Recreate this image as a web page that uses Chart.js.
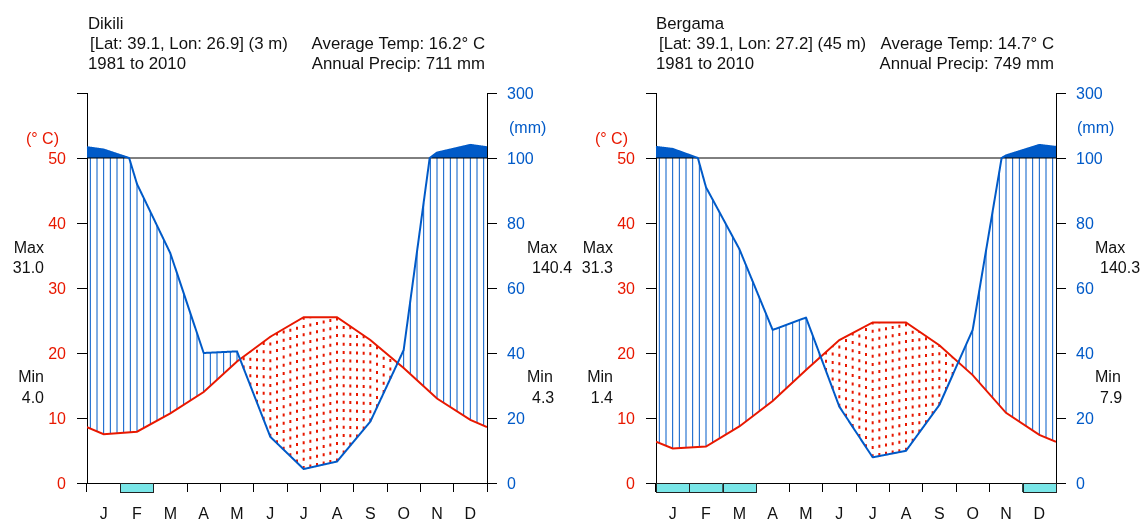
<!DOCTYPE html>
<html>
<head>
<meta charset="utf-8">
<script src="https://cdn.jsdelivr.net/npm/chart.js@4.4.0/dist/chart.umd.min.js"></script>
<style>
  body { margin: 0; background: #fff; width: 1147px; height: 522px; position: relative; overflow: hidden; }
  canvas { position: absolute; top: 0; }
</style>
</head>
<body>
<canvas id="dikili" width="576" height="522" style="left:0px"></canvas>
<canvas id="bergama" width="571" height="522" style="left:576px"></canvas>
<script>
const months = ['J', 'F', 'M', 'A', 'M', 'J', 'J', 'A', 'S', 'O', 'N', 'D'];
const tempTicks = [0, 10, 20, 30, 40, 50, 60];
const precipTicks = [0, 20, 40, 60, 80, 100, 300];
const period = '1981 to 2010';

// Dikili
const dikiliTemp = [7.5, 7.9, 10.7, 14.0, 18.7, 22.5, 25.5, 25.5, 22.0, 17.7, 13.0, 9.7];
const dikiliPrecip = [126, 92, 70.7, 40, 40.5, 14.2, 4.3, 6.6, 18.9, 40.9, 116.6, 140.4];
const dikiliFrost = [0, 1, 0, 0, 0, 0, 0, 0, 0, 0, 0, 0];
const dikiliInfo = ['Dikili', '[Lat: 39.1, Lon: 26.9] (3 m)', 'Average Temp: 16.2\u00b0 C', 'Annual Precip: 711 mm'];
const dikiliExtremes = ['31.0', '4.0', '140.4', '4.3'];

// Bergama
const bergamaTemp = [5.3, 5.6, 8.7, 12.6, 17.4, 22.0, 24.7, 24.7, 21.2, 16.6, 10.8, 7.4];
const bergamaPrecip = [128, 91, 72, 47.1, 50.9, 23.5, 7.9, 9.9, 24.0, 47.1, 108, 140.3];
const bergamaFrost = [1, 1, 1, 0, 0, 0, 0, 0, 0, 0, 0, 1];
const bergamaInfo = ['Bergama', '[Lat: 39.1, Lon: 27.2] (45 m)', 'Average Temp: 14.7\u00b0 C', 'Annual Precip: 749 mm'];
const bergamaExtremes = ['31.3', '1.4', '140.3', '7.9'];

const TCOL = '#e81800';
const PCOL = '#005ac8';
const FROST = '#79e6e8';
const FONT = '"Liberation Sans", Arial, sans-serif';

Chart.defaults.font.family = FONT;
Chart.defaults.font.size = 16;

// precipitation axis: 2 mm per degree up to 100 mm, 20 mm per degree above
class ClimateScale extends Chart.LinearScale {
  static id = 'climate';
  getPixelForValue(v) {
    const d = v <= 100 ? v / 2 : 50 + (v - 100) / 20;
    return this.getPixelForDecimal(d / 60);
  }
  getValueForPixel(p) {
    const d = this.getDecimalForPixel(p) * 60;
    return d <= 50 ? d * 2 : 100 + (d - 50) * 20;
  }
  buildTicks() {
    return precipTicks.map(v => ({ value: v }));
  }
}
Chart.register(ClimateScale);

// month centres plus the Dec/Jan mean at both ends
function withEdges(vals) {
  const e = (vals[0] + vals[11]) / 2;
  return [{ x: 0, y: e }, ...vals.map((v, i) => ({ x: i + 0.5, y: v })), { x: 12, y: e }];
}
function at(vals, m) {
  const pts = withEdges(vals);
  for (let i = 0; i < pts.length - 1; i++) {
    if (m <= pts[i + 1].x) {
      const t = (m - pts[i].x) / (pts[i + 1].x - pts[i].x);
      return pts[i].y + t * (pts[i + 1].y - pts[i].y);
    }
  }
  return pts[pts.length - 1].y;
}

const walterLieth = {
  id: 'walterLieth',
  beforeDatasetsDraw(chart, args, o) {
    const { ctx, chartArea: a } = chart;
    const { x, yT, yP } = chart.scales;
    ctx.save();
    ctx.beginPath();
    ctx.rect(a.left, a.top, a.right - a.left, a.bottom - a.top);
    ctx.clip();
    // humid hatching / arid dots, five per month
    for (let k = 0; k < 60; k++) {
      const m = (k + 0.5) / 5;
      const px = x.getPixelForValue(m);
      const ty = yT.getPixelForValue(at(o.temp, m));
      const py = yP.getPixelForValue(Math.min(at(o.precip, m), 100));
      ctx.beginPath();
      if (py < ty) {
        ctx.strokeStyle = PCOL;
        ctx.lineWidth = 1;
        ctx.setLineDash([]);
        ctx.moveTo(px, ty);
        ctx.lineTo(px, py);
      } else {
        ctx.strokeStyle = TCOL;
        ctx.lineWidth = 2;
        ctx.setLineDash([3, 5.3]);
        ctx.moveTo(px, py);
        ctx.lineTo(px, ty);
      }
      ctx.stroke();
    }
    ctx.setLineDash([]);
    // solid cap above 100 mm
    const base = yP.getPixelForValue(100);
    ctx.fillStyle = PCOL;
    ctx.beginPath();
    ctx.moveTo(x.getPixelForValue(0), base);
    for (let i = 0; i <= 1200; i++) {
      const m = i / 100;
      ctx.lineTo(x.getPixelForValue(m), yP.getPixelForValue(Math.max(at(o.precip, m), 100)));
    }
    ctx.lineTo(x.getPixelForValue(12), base);
    ctx.closePath();
    ctx.fill();
    ctx.strokeStyle = '#000';
    ctx.lineWidth = 1;
    ctx.beginPath();
    ctx.moveTo(a.left, base);
    ctx.lineTo(a.right, base);
    ctx.stroke();
    ctx.restore();
  },
  afterDatasetsDraw(chart, args, o) {
    const { ctx } = chart;
    const { x, yP } = chart.scales;
    ctx.save();
    ctx.strokeStyle = PCOL;
    ctx.lineWidth = 2;
    ctx.lineJoin = 'round';
    ctx.beginPath();
    for (let i = 0; i <= 1200; i++) {
      const m = i / 100;
      const px = x.getPixelForValue(m), py = yP.getPixelForValue(at(o.precip, m));
      if (i === 0) ctx.moveTo(px, py); else ctx.lineTo(px, py);
    }
    ctx.stroke();
    ctx.restore();
  },
  afterDraw(chart, args, o) {
    const { ctx, chartArea: a } = chart;
    const x = chart.scales.x;
    const L = o.layout, off = L.pageX;
    ctx.save();
    // probable frost months
    o.frost.forEach((f, i) => {
      if (!f) return;
      const x0 = x.getPixelForValue(i), x1 = x.getPixelForValue(i + 1);
      ctx.fillStyle = FROST;
      ctx.fillRect(x0, a.bottom, x1 - x0, 9.5);
      ctx.strokeStyle = '#222';
      ctx.lineWidth = 1;
      ctx.strokeRect(Math.round(x0) + 0.5, a.bottom + 0.5, Math.round(x1 - x0), 9);
    });
    ctx.fillStyle = '#111';
    ctx.font = '16.8px ' + FONT;
    ctx.textAlign = 'left';
    ctx.fillText(o.info[0], L.nameX - off, 28.5);
    ctx.fillText(o.info[1], L.latX - off, 49);
    ctx.fillText(period, L.nameX - off, 68.5);
    ctx.textAlign = 'right';
    ctx.fillText(o.info[2], L.statsRight - off, 49);
    ctx.fillText(o.info[3], L.statsRight - off, 68.5);
    ctx.font = '16px ' + FONT;
    ctx.fillText('Max', L.tLabelRight - off, 252.5);
    ctx.fillText(o.extremes[0], L.tLabelRight - off, 272.5);
    ctx.fillText('Min', L.tLabelRight - off, 381.5);
    ctx.fillText(o.extremes[1], L.tLabelRight - off, 402.5);
    ctx.fillStyle = TCOL;
    ctx.fillText('(\u00b0 C)', L.unitTRight - off, 143.5);
    ctx.textAlign = 'left';
    ctx.fillStyle = PCOL;
    ctx.fillText('(mm)', L.unitPX - off, 132.5);
    ctx.fillStyle = '#111';
    ctx.fillText('Max', L.pLabelX - off, 252.5);
    ctx.fillText(o.extremes[2], L.pValueX - off, 272.5);
    ctx.fillText('Min', L.pLabelX - off, 381.5);
    ctx.fillText(o.extremes[3], L.pValueX - off, 402.5);
    ctx.restore();
  }
};

function diagram(id, temp, precip, frost, info, extremes, layout) {
  const w = layout.width;
  return new Chart(document.getElementById(id), {
    type: 'line',
    data: {
      datasets: [
        { data: withEdges(temp), yAxisID: 'yT', borderColor: TCOL, borderWidth: 2, pointRadius: 0, tension: 0 },
        { data: withEdges(precip), yAxisID: 'yP', showLine: false, pointRadius: 0 }
      ]
    },
    options: {
      responsive: false,
      animation: false,
      events: [],
      layout: { padding: { top: 93, left: 0, right: 0, bottom: 0 } },
      plugins: {
        legend: { display: false },
        tooltip: { enabled: false },
        walterLieth: { temp, precip, frost, info, extremes, layout }
      },
      scales: {
        x: {
          type: 'linear', min: 0, max: 12,
          afterBuildTicks: s => { s.ticks = months.map((m, i) => ({ value: i + 0.5 })); },
          afterFit: s => { s.height = 522 - 483; },
          ticks: { callback: (v, i) => months[i], autoSkip: false, maxRotation: 0, color: '#111', padding: 13 },
          grid: { offset: true, drawOnChartArea: false, tickLength: 9, color: '#000' },
          border: { color: '#000' }
        },
        yT: {
          type: 'linear', position: 'left', min: 0, max: 60,
          afterBuildTicks: s => { s.ticks = tempTicks.map(v => ({ value: v })); },
          afterFit: s => { s.width = layout.plotLeft - layout.pageX; },
          ticks: { callback: v => (v === 60 ? '' : v), color: TCOL, padding: 11, labelOffset: 2 },
          grid: { drawOnChartArea: false, tickLength: 10, color: '#000' },
          border: { color: '#000' }
        },
        yP: {
          type: 'climate', position: 'right', min: 0, max: 300,
          afterFit: s => { s.width = w - (layout.plotRight - layout.pageX); },
          ticks: { callback: v => v, color: PCOL, padding: 10, labelOffset: 2, autoSkip: false },
          grid: { drawOnChartArea: false, tickLength: 10, color: '#000' },
          border: { color: '#000' }
        }
      }
    },
    plugins: [walterLieth]
  });
}

diagram('dikili', dikiliTemp, dikiliPrecip, dikiliFrost, dikiliInfo, dikiliExtremes, {
  pageX: 0, width: 576, plotLeft: 87, plotRight: 487,
  nameX: 88, latX: 90, statsRight: 485, unitTRight: 59, tLabelRight: 44,
  unitPX: 509, pLabelX: 527, pValueX: 532
});
diagram('bergama', bergamaTemp, bergamaPrecip, bergamaFrost, bergamaInfo, bergamaExtremes, {
  pageX: 576, width: 571, plotLeft: 656, plotRight: 1056,
  nameX: 656, latX: 659, statsRight: 1054, unitTRight: 628, tLabelRight: 613,
  unitPX: 1077, pLabelX: 1095, pValueX: 1100
});
</script>
</body>
</html>
